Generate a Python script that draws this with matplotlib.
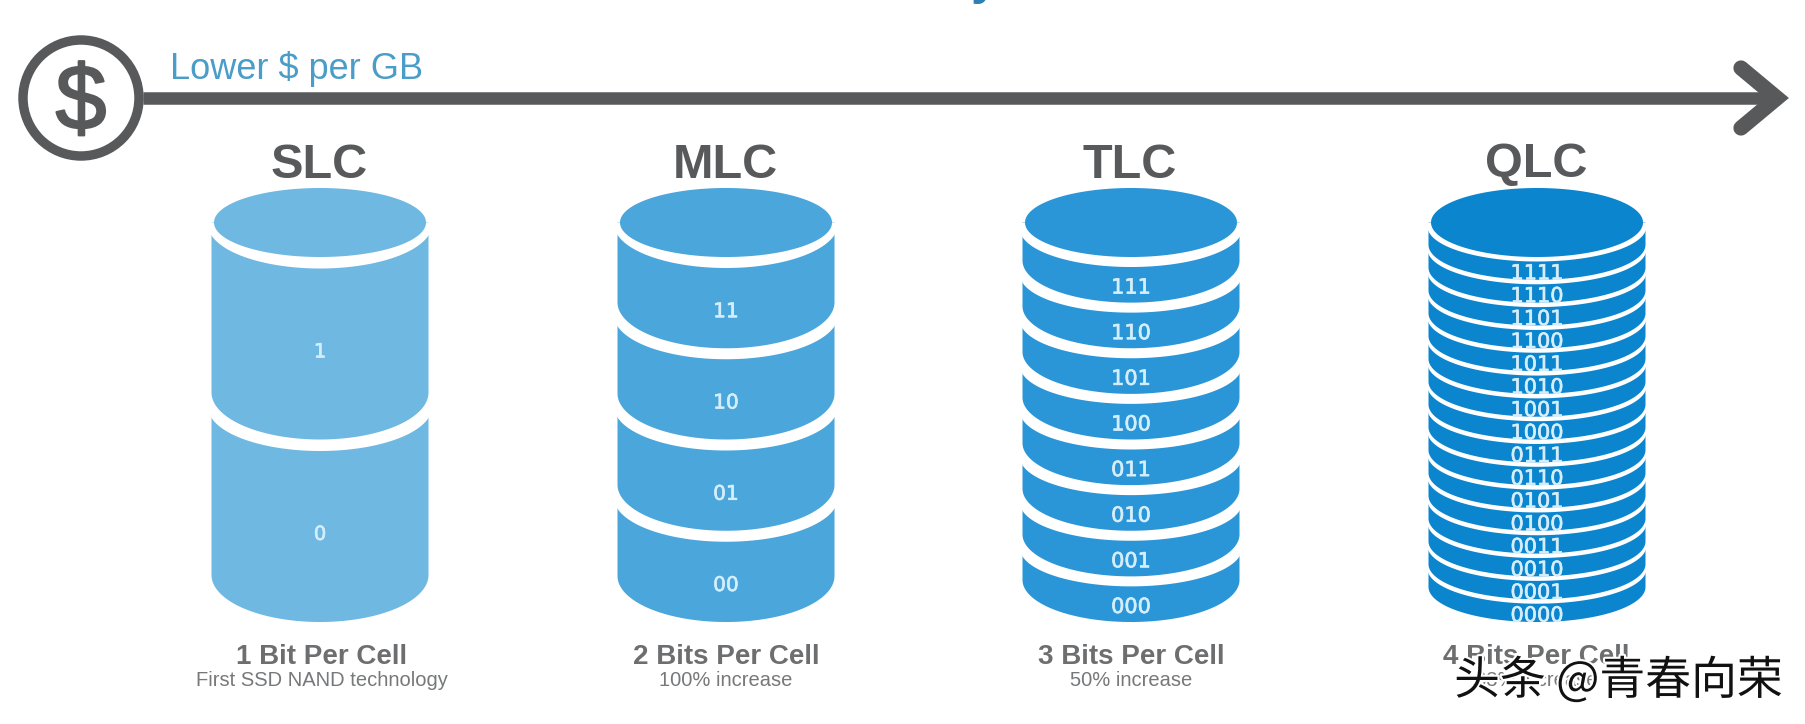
import numpy as np
import matplotlib
matplotlib.use("Agg")
import matplotlib.pyplot as plt
import matplotlib.patheffects as pe
from matplotlib.patches import Circle

# ---- data ----
cell_types = ["SLC", "MLC", "TLC", "QLC"]
bits_per_cell = ["1 Bit Per Cell", "2 Bits Per Cell", "3 Bits Per Cell", "4 Bits Per Cell"]
sub_captions = ["First SSD NAND technology", "100% increase", "50% increase", "33% increase"]
level_labels = [
    ["1", "0"],
    ["11", "10", "01", "00"],
    ["111", "110", "101", "100", "011", "010", "001", "000"],
    ["1111", "1110", "1101", "1100", "1011", "1010", "1001", "1000",
     "0111", "0110", "0101", "0100", "0011", "0010", "0001", "0000"],
]
axis_label = "Lower $ per GB"
watermark = "头条 @青春向荣"
cropped_title_tail = "y"

# ---- style / layout (pixels) ----
W, H = 1806, 724
colors = ["#6fb8e2", "#4aa6db", "#2a96d8", "#0c85cf"]
gray = "#58595b"
centers = [320, 726, 1131, 1537]
caption_dx = [2, 0, 0, -1]
half_width = 108.5
gaps = [11.5, 11, 10, 4.5]
arc_b = [47, 46, 42, 35]
halo_b = [44, 44, 38, 35]
halo_extra = [3.5, 3.5, 2.5, 1]
label_frac = [0.48, 0.40, 0.33, 0.28]
label_size = [14, 14.5, 15, 15]
top_y, disk_bottom, stack_bottom = 188, 257, 622

fig = plt.figure(figsize=(W / 100, H / 100), dpi=100, facecolor="white")
ax = fig.add_axes([0, 0, 1, 1])
ax.set_xlim(0, W)
ax.set_ylim(H, 0)
ax.axis("off")
plt.rcParams["font.family"] = ["Liberation Sans", "DejaVu Sans"]


def layer_shape(cx, a, y_bottom, b, y_up):
    t = np.linspace(0, np.pi, 120)
    xs = cx + a * np.cos(t)
    ys = y_bottom - b + b * np.sin(t)
    return np.r_[cx + a, xs, cx - a], np.r_[y_up, ys, y_up]


for i, name in enumerate(cell_types):
    cx = centers[i]
    labels = level_labels[i]
    n = len(labels)
    step = (stack_bottom - disk_bottom) / n
    bottoms = disk_bottom + step * np.arange(1, n + 1)
    mid = (top_y + disk_bottom) / 2
    # paint from the bottom layer upward
    for k in range(n - 1, -1, -1):
        ax.fill(*layer_shape(cx, half_width, bottoms[k], arc_b[i], mid), color=colors[i], lw=0, zorder=2 + (n - k) * 2)
        above = bottoms[k - 1] if k > 0 else disk_bottom
        ax.fill(*layer_shape(cx, half_width + halo_extra[i], above + gaps[i], halo_b[i], mid), color="white", lw=0, zorder=3 + (n - k) * 2)
    t = np.linspace(0, 2 * np.pi, 200)
    ax.fill(cx + 106 * np.cos(t), mid + (disk_bottom - top_y) / 2 * np.sin(t), color=colors[i], lw=0, zorder=100)
    for k, lab in enumerate(labels):
        ax.text(cx, bottoms[k] - step * label_frac[i], lab, ha="center", va="center", family="DejaVu Sans",
                fontsize=label_size[i], color="#d4eefc", zorder=101,
                path_effects=[pe.withStroke(linewidth=0.5, foreground="#d4eefc")])
    ax.text(cx - 1, 165, name, ha="center", va="center", fontsize=35, fontweight="bold", color=gray, zorder=101)
    ax.text(cx + caption_dx[i], 657, bits_per_cell[i], ha="center", va="center", fontsize=20, fontweight="bold", color="#6d6e70", zorder=101)
    ax.text(cx + caption_dx[i], 681, sub_captions[i], ha="center", va="center", fontsize=14.5, color="#77787a", zorder=101)

# cost axis with dollar badge
ax.plot([143, 1780], [98, 98], color=gray, lw=9, solid_capstyle="butt", zorder=1)
ax.plot([1741, 1777, 1741], [68, 98, 128], color=gray, lw=11, solid_capstyle="round", solid_joinstyle="miter", zorder=1)
ax.add_patch(Circle((81, 98), 58, fc="white", ec=gray, lw=6.8, zorder=2))
ax.text(81, 105, "$", ha="center", va="center", fontsize=66, color=gray, zorder=3,
        path_effects=[pe.withStroke(linewidth=1.5, foreground=gray)])
ax.text(170, 69, axis_label, ha="left", va="center", fontsize=26, color="#4a9dc8", zorder=3)

# tail of a title that the picture crops at its top edge
ax.text(984, -6, cropped_title_tail, ha="center", va="baseline", fontsize=36, fontweight="bold", color="#2f7fb5", zorder=3)

ax.text(1783, 681, watermark, ha="right", va="center", fontsize=33, color="#111111",
        family=["Noto Sans CJK SC", "DejaVu Sans"], zorder=200,
        path_effects=[pe.withStroke(linewidth=3, foreground="white")])

fig.savefig("out.png", dpi=100, facecolor="white")
